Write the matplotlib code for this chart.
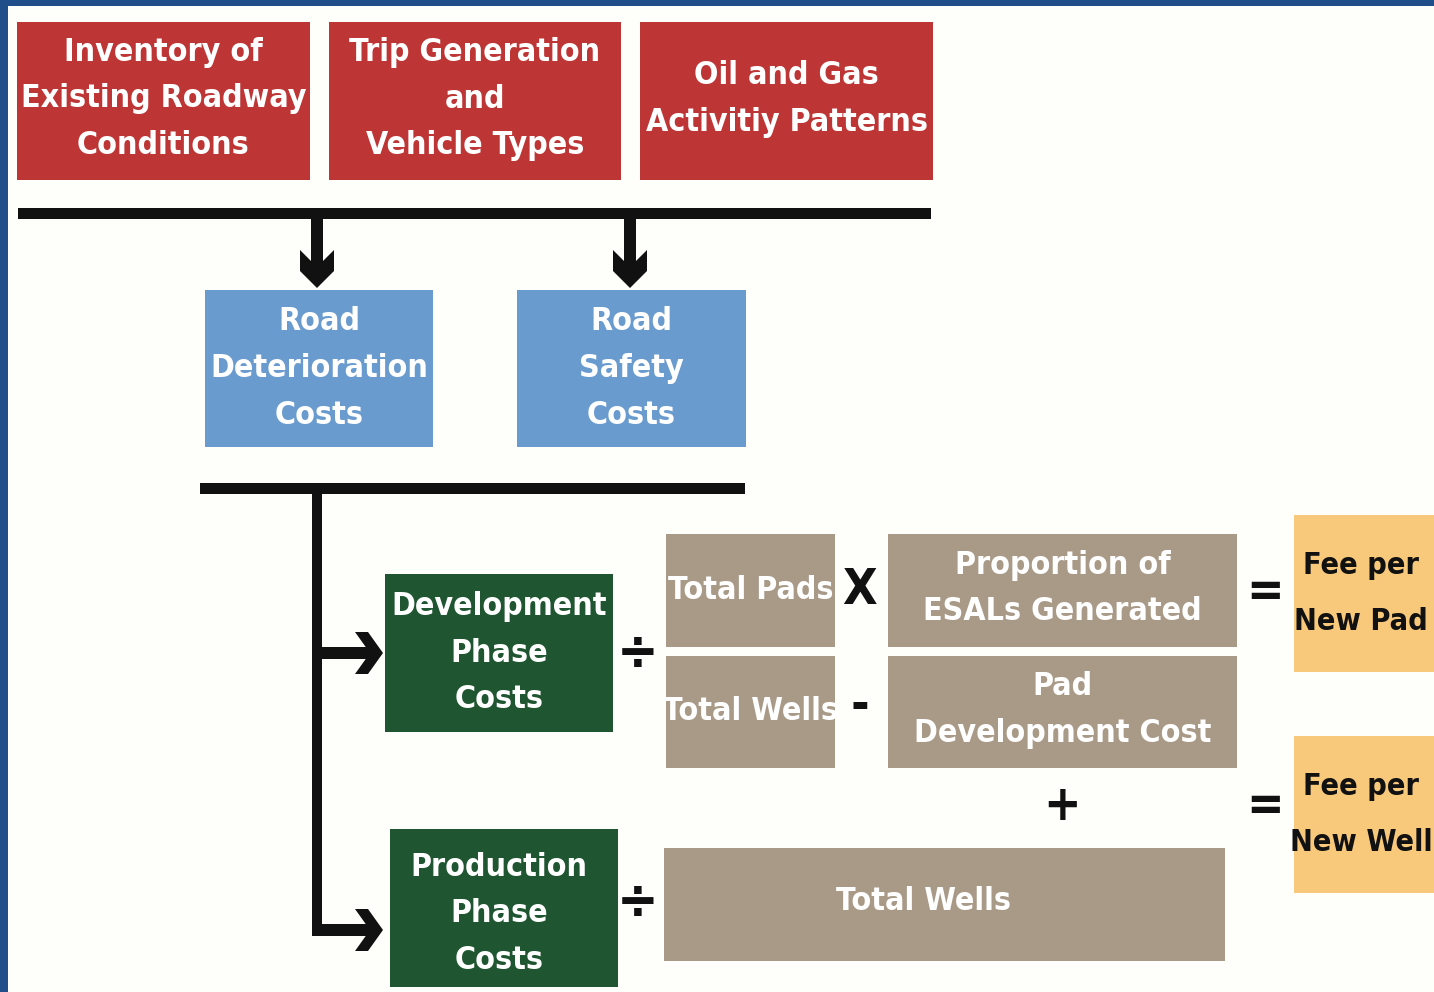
import matplotlib.pyplot as plt
from matplotlib.patches import Rectangle, Polygon

# Labels
input_labels = ["Inventory of\nExisting Roadway\nConditions",
                "Trip Generation\nand\nVehicle Types",
                "Oil and Gas\nActivitiy Patterns"]
cost_labels = ["Road\nDeterioration\nCosts", "Road\nSafety\nCosts"]
phase_labels = ["Development\nPhase\nCosts", "Production\nPhase\nCosts"]
factor_labels = ["Total Pads", "Proportion of\nESALs Generated",
                 "Total Wells", "Pad\nDevelopment Cost", "Total Wells"]
fee_labels = ["Fee per\nNew Pad", "Fee per\nNew Well"]
operator_labels = ["÷", "X", "-", "+", "=", "=", "÷"]

# Colours
RED = '#BD3535'
BLUE = '#6A9BCF'
GREEN = '#1F5631'
TAN = '#A99A88'
ORANGE = '#F8C97B'
FRAME = '#1F4E8B'
BG = '#FEFEFB'
INK = '#111111'

plt.rcParams['font.family'] = ['DejaVu Sans']
plt.rcParams['font.stretch'] = 'condensed'

# box layout in pixels: (x0, y0, x1, y1)
input_boxes = [(17, 22, 310, 180), (329, 22, 621, 180), (640, 22, 933, 180)]
cost_boxes = [(205, 290, 433, 447), (517, 290, 746, 447)]
phase_boxes = [(385, 574, 613, 732), (390, 829, 618, 987)]
phase_shift = [(0, 0), (-5, 6)]
factor_boxes = [(666, 534, 835, 647), (888, 534, 1237, 647),
                (666, 656, 835, 768), (888, 656, 1237, 768),
                (664, 848, 1225, 961)]
factor_shift = [(0, 0), (0, -2), (0, -1), (0, -2), (-21, -3)]
fee_boxes = [(1294, 515, 1440, 672), (1294, 736, 1440, 893)]
operator_pos = [(638, 654), (860, 590), (860, 706), (1062, 806),
                (1265, 592), (1265, 806), (638, 903)]

fig = plt.figure(figsize=(14.34, 9.92), dpi=100)
fig.patch.set_facecolor(BG)
ax = fig.add_axes([0, 0, 1, 1])
ax.set_xlim(0, 1434)
ax.set_ylim(992, 0)
ax.axis('off')
ax.set_facecolor(BG)


def box(b, color, label, tcolor='white', ls=1.65, dy=0, dx=0, fs=23):
    x0, y0, x1, y1 = b
    ax.add_patch(Rectangle((x0, y0), x1 - x0, y1 - y0, facecolor=color,
                           edgecolor='none', zorder=2))
    ax.text((x0 + x1) / 2 + dx, (y0 + y1) / 2 + dy, label, color=tcolor,
            fontsize=fs, fontweight='bold', fontstretch='condensed',
            ha='center', va='center', linespacing=ls, zorder=3, clip_on=True)


def bar(x0, y0, x1, y1):
    ax.add_patch(Rectangle((x0, y0), x1 - x0, y1 - y0, facecolor=INK,
                           edgecolor='none', zorder=2))


def head(tx, ty, direction, L, H, w):
    # chevron head, points given as (back, side)
    pts = [(0, 0), (L - w, -H), (L, -H), (w, 0), (L, H), (L - w, H)]
    if direction == 'down':
        xy = [(tx + s, ty - b) for b, s in pts]
    else:
        xy = [(tx - b, ty + s) for b, s in pts]
    ax.add_patch(Polygon(xy, closed=True, facecolor=INK,
                         edgecolor='none', zorder=2))


# frame
ax.add_patch(Rectangle((0, 0), 8, 992, facecolor=FRAME, edgecolor='none', zorder=5))
ax.add_patch(Rectangle((0, 0), 1434, 6, facecolor=FRAME, edgecolor='none', zorder=5))

for b, lab in zip(input_boxes, input_labels):
    box(b, RED, lab, dy=-2)
for b, lab in zip(cost_boxes, cost_labels):
    box(b, BLUE, lab)
for b, lab, (dx, dy) in zip(phase_boxes, phase_labels, phase_shift):
    box(b, GREEN, lab, dx=dx, dy=dy)
for b, lab, (dx, dy) in zip(factor_boxes, factor_labels, factor_shift):
    box(b, TAN, lab, dx=dx, dy=dy)
for b, lab in zip(fee_boxes, fee_labels):
    box(b, ORANGE, lab, tcolor=INK, ls=2.2, dx=-6, fs=22)

# connectors
bar(18, 208, 931, 219)
for x in (317, 630):
    bar(x - 6, 219, x + 6, 268)
    head(x, 288, 'down', 38, 17, 21)
bar(200, 483, 745, 494)
bar(312, 494, 322, 936)
for y in (653, 930):
    bar(312, y - 6, 370, y + 6)
    head(383, y, 'right', 28, 21, 13)

# operators
for (x, y), op in zip(operator_pos, operator_labels):
    fs = 40 if op == '÷' else 36
    ax.text(x, y, op, fontsize=fs, fontweight='heavy', family=['DejaVu Sans'],
            fontstretch='condensed', ha='center', va='center', color=INK, zorder=3)

fig.savefig('out.png', dpi=100, facecolor=BG)
